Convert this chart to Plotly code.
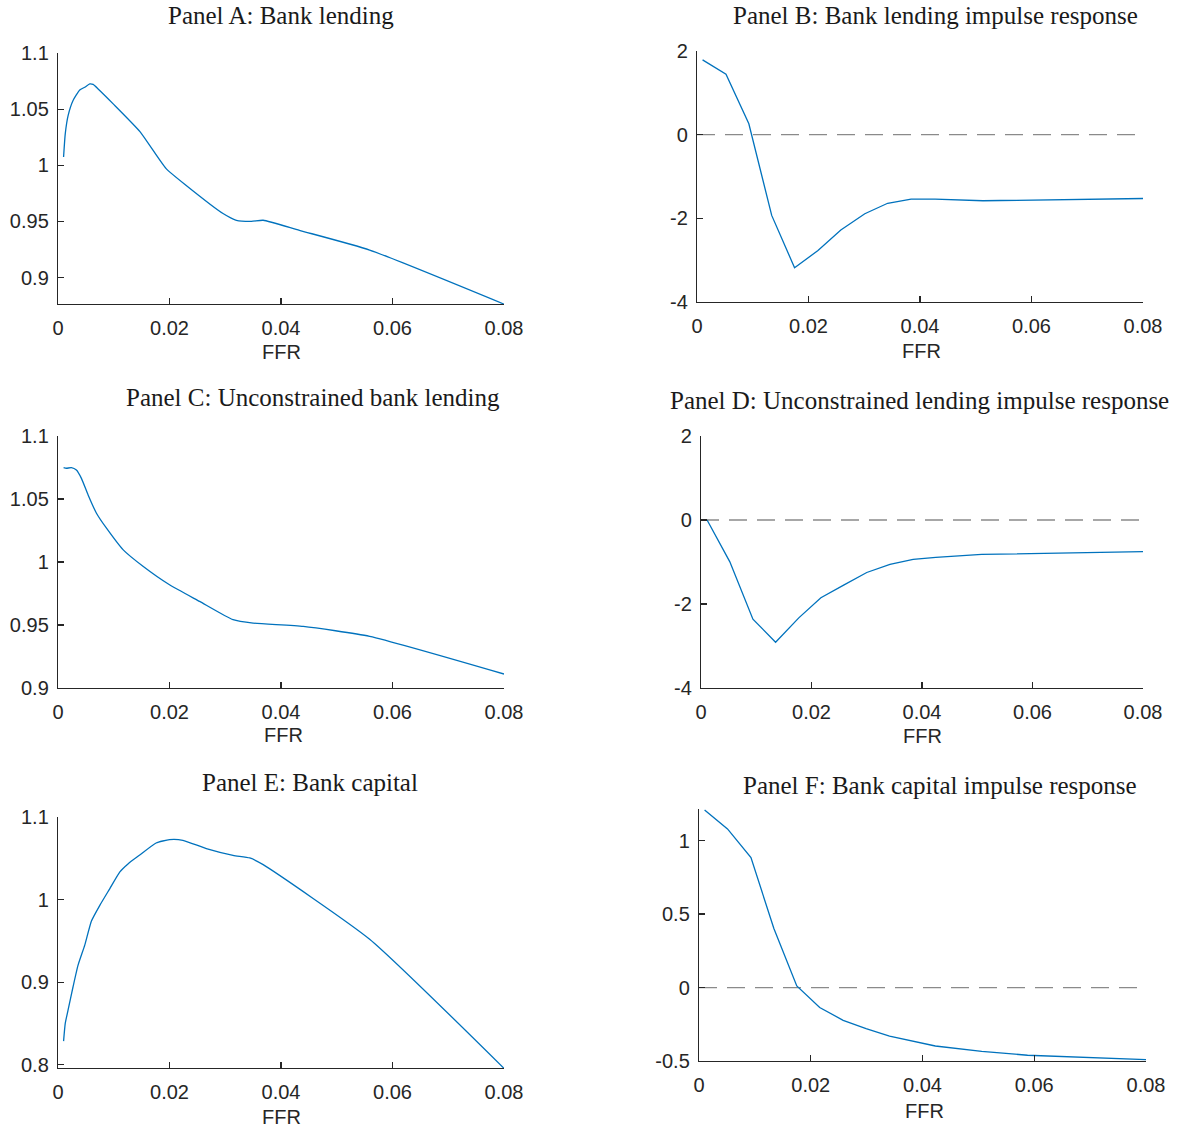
import plotly.graph_objects as go

W, H = 1179, 1130

# ---------------- data ----------------
x_ticks = [0, 0.02, 0.04, 0.06, 0.08]
x_ticklabels = ["0", "0.02", "0.04", "0.06", "0.08"]

A_x = [0.0010, 0.0013, 0.0018, 0.0027, 0.0039, 0.0048, 0.0057, 0.0063, 0.0072, 0.0099,
       0.0147, 0.0194, 0.0230, 0.0296, 0.0320, 0.0347, 0.0368, 0.0433, 0.0559, 0.0800]
A_y = [1.0074, 1.028, 1.044, 1.0577, 1.067, 1.0695, 1.0725, 1.072, 1.068, 1.0547,
       1.030, 0.997, 0.982, 0.957, 0.951, 0.950, 0.951, 0.942, 0.9245, 0.8763]

B_x = [0.0010, 0.0052, 0.0093, 0.0134, 0.0175, 0.0217, 0.0258, 0.0301, 0.0342, 0.0384,
       0.0427, 0.0513, 0.0800]
B_y = [1.787, 1.447, 0.26, -1.93, -3.18, -2.77, -2.28, -1.89, -1.64, -1.54,
       -1.54, -1.58, -1.526]

C_x = [0.0010, 0.0015, 0.0024, 0.0033, 0.0042, 0.0054, 0.0069, 0.0087, 0.0117, 0.0153,
       0.0200, 0.0254, 0.0314, 0.0350, 0.0440, 0.0559, 0.0800]
C_y = [1.0749, 1.0744, 1.0749, 1.073, 1.0664, 1.0532, 1.0387, 1.0268, 1.0096, 0.9964,
       0.9819, 0.9687, 0.9542, 0.9515, 0.9489, 0.941, 0.9111]

D_x = [0.0011, 0.0052, 0.0094, 0.0135, 0.0177, 0.0217, 0.0259, 0.0300, 0.0342, 0.0384,
       0.0425, 0.0508, 0.0800]
D_y = [0.0, -0.99, -2.36, -2.91, -2.33, -1.85, -1.545, -1.25, -1.054, -0.935,
       -0.89, -0.82, -0.753]

E_x = [0.0010, 0.0013, 0.0018, 0.0027, 0.0036, 0.0048, 0.0060, 0.0075, 0.0093, 0.0111,
       0.0126, 0.0146, 0.0176, 0.0200, 0.0224, 0.0266, 0.0314, 0.0344, 0.0368, 0.0559, 0.0800]
E_y = [0.8286, 0.85, 0.866, 0.8944, 0.9206, 0.9448, 0.974, 0.993, 1.0133, 1.0335,
       1.0435, 1.0536, 1.0685, 1.0726, 1.0718, 1.0617, 1.0536, 1.0504, 1.0423, 0.952, 0.7956]

F_x = [0.0010, 0.0051, 0.0093, 0.0134, 0.0175, 0.0216, 0.0258, 0.0299, 0.0341, 0.0382,
       0.0423, 0.0506, 0.0588, 0.0800]
F_y = [1.209, 1.0795, 0.884, 0.402, 0.011, -0.136, -0.223, -0.28, -0.33, -0.366,
       -0.398, -0.434, -0.461, -0.491]

titles = ["Panel A: Bank lending", "Panel B: Bank lending impulse response",
          "Panel C: Unconstrained bank lending", "Panel D: Unconstrained lending impulse response",
          "Panel E: Bank capital", "Panel F: Bank capital impulse response"]

yt_level = [0.9, 0.95, 1, 1.05, 1.1]
yt_level_txt = ["0.9", "0.95", "1", "1.05", "1.1"]
yt_irf = [-4, -2, 0, 2]
yt_irf_txt = ["-4", "-2", "0", "2"]
yt_cap = [0.8, 0.9, 1, 1.1]
yt_cap_txt = ["0.8", "0.9", "1", "1.1"]
yt_capirf = [-0.5, 0, 0.5, 1]
yt_capirf_txt = ["-0.5", "0", "0.5", "1"]

# ---------------- layout (pixel boxes in screenshot coordinates) ----------------
panels = [
    dict(x=A_x, y=A_y, smooth=True, yr=[0.8764, 1.1], yt=yt_level, ytt=yt_level_txt,
         box=(58, 504, 53, 304), tpos=(281, 15), fpos=(281, 352), zero=False),
    dict(x=B_x, y=B_y, smooth=False, yr=[-4, 2], yt=yt_irf, ytt=yt_irf_txt,
         box=(697, 1143, 51, 302), tpos=(935, 15), fpos=(921, 351), zero=True),
    dict(x=C_x, y=C_y, smooth=True, yr=[0.9, 1.1], yt=yt_level, ytt=yt_level_txt,
         box=(58, 504, 436, 688), tpos=(313, 398), fpos=(283, 735), zero=False),
    dict(x=D_x, y=D_y, smooth=False, yr=[-4, 2], yt=yt_irf, ytt=yt_irf_txt,
         box=(701, 1143, 436, 688), tpos=(919, 400), fpos=(922, 736), zero=True),
    dict(x=E_x, y=E_y, smooth=True, yr=[0.796, 1.1], yt=yt_cap, ytt=yt_cap_txt,
         box=(58, 504, 817, 1068), tpos=(310, 782), fpos=(281, 1117), zero=False),
    dict(x=F_x, y=F_y, smooth=False, yr=[-0.5, 1.215], yt=yt_capirf, ytt=yt_capirf_txt,
         box=(699, 1146, 809, 1061), tpos=(940, 786), fpos=(924, 1111), zero=True),
]


def px_x(px):
    return px / W


def px_y(py):
    return 1 - py / H


fig = go.Figure()
layout = dict(width=W, height=H, margin=dict(l=0, r=0, t=0, b=0, autoexpand=False),
              paper_bgcolor="white", plot_bgcolor="white", showlegend=False,
              hovermode=False)
annotations = []

AX_COLOR = "#262626"
TICK_FONT = dict(family="Liberation Sans, Arial, sans-serif", size=20, color="#262626")

for i, p in enumerate(panels, start=1):
    l, r, t, b = p["box"]
    xa = "x" if i == 1 else f"x{i}"
    ya = "y" if i == 1 else f"y{i}"
    xkey = "xaxis" if i == 1 else f"xaxis{i}"
    ykey = "yaxis" if i == 1 else f"yaxis{i}"

    if p["zero"]:
        fig.add_trace(go.Scatter(x=[x_ticks[0], x_ticks[-1]], y=[0, 0], mode="lines",
                                 line=dict(color="#8a8a8a", width=1.3, dash="18px,10px"),
                                 xaxis=xa, yaxis=ya, hoverinfo="skip"))
    line = dict(color="#0072BD", width=1.3)
    if p["smooth"]:
        line.update(shape="spline", smoothing=0.5)
    fig.add_trace(go.Scatter(x=p["x"], y=p["y"], mode="lines", line=line,
                             xaxis=xa, yaxis=ya, cliponaxis=False))

    layout[xkey] = dict(domain=[px_x(l), px_x(r)], anchor=ya, range=[0, 0.08],
                        tickvals=x_ticks, ticktext=x_ticklabels,
                        showline=True, linecolor=AX_COLOR, linewidth=1.2,
                        ticks="inside", ticklen=6, tickcolor=AX_COLOR, tickwidth=1.2,
                        showgrid=False, zeroline=False, tickfont=TICK_FONT,
                        ticklabelstandoff=6, automargin=False, fixedrange=True)
    layout[ykey] = dict(domain=[px_y(b), px_y(t)], anchor=xa, range=p["yr"],
                        tickvals=p["yt"], ticktext=p["ytt"],
                        showline=True, linecolor=AX_COLOR, linewidth=1.2,
                        ticks="inside", ticklen=6, tickcolor=AX_COLOR, tickwidth=1.2,
                        showgrid=False, zeroline=False, tickfont=TICK_FONT,
                        ticklabelstandoff=4, automargin=False, fixedrange=True)

    tx, ty = p["tpos"]
    annotations.append(dict(text=titles[i - 1], x=px_x(tx), y=px_y(ty), xref="paper", yref="paper",
                            xanchor="center", yanchor="middle", showarrow=False,
                            font=dict(family="Liberation Serif, Times New Roman, serif", size=25,
                                      color="#1a1a1a")))
    fx, fy = p["fpos"]
    annotations.append(dict(text="FFR", x=px_x(fx), y=px_y(fy), xref="paper", yref="paper",
                            xanchor="center", yanchor="middle", showarrow=False,
                            font=TICK_FONT))

layout["annotations"] = annotations
fig.update_layout(**layout)
fig.write_html("out.html",
               config={"displayModeBar": False, "staticPlot": True},
               post_script="document.body.style.margin='0';document.body.style.overflow='hidden';")
